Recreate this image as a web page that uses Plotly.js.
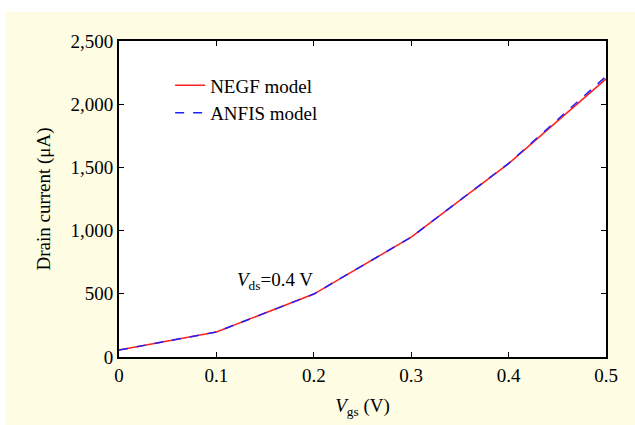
<!DOCTYPE html>
<html>
<head>
<meta charset="utf-8">
<script src="https://cdn.plot.ly/plotly-3.0.1.min.js"></script>
<style>
html,body{margin:0;padding:0;background:#ffffff;width:635px;height:425px;overflow:hidden;}
#chart{position:absolute;left:6px;top:12px;width:629px;height:413px;}
</style>
</head>
<body>
<div id="chart"></div>
<script>
var vgs = [0, 0.1, 0.2, 0.3, 0.4, 0.5];
var negf = [55, 198, 498, 948, 1530, 2200];
var anfis = [55, 198, 498, 948, 1532, 2220];
var xTicks = [0, 0.1, 0.2, 0.3, 0.4, 0.5];
var yTicks = [0, 500, 1000, 1500, 2000, 2500];

var font = {family: '"Liberation Serif", "Times New Roman", serif', size: 19, color: '#000'};

var traces = [
  {x: vgs, y: negf, name: 'NEGF model', mode: 'lines', type: 'scatter',
   line: {color: '#ff2020', width: 1.5}},
  {x: vgs, y: anfis, name: 'ANFIS model', mode: 'lines', type: 'scatter',
   line: {color: '#2020ff', width: 1.5, dash: 'dash'}}
];

var layout = {
  width: 629, height: 413,
  paper_bgcolor: '#fefde3',
  plot_bgcolor: '#ffffff',
  font: font,
  margin: {l: 113, r: 29, t: 29, b: 68},
  showlegend: true,
  legend: {x: 0.105, y: 0.92, xanchor: 'left', yanchor: 'top', bgcolor: 'rgba(0,0,0,0)',
           font: font, borderwidth: 0, tracegroupgap: 0},
  xaxis: {
    range: [0, 0.5], tickvals: xTicks, ticktext: xTicks.map(String),
    ticks: 'inside', ticklen: 5, tickwidth: 1, tickcolor: '#000',
    showline: true, linecolor: '#000', linewidth: 2, mirror: 'ticks',
    showgrid: false, zeroline: false, tickfont: font,
    title: {text: '<i>V</i><sub>gs</sub> (V)', font: font, standoff: 14}
  },
  yaxis: {
    range: [0, 2500], tickvals: yTicks, separatethousands: true, tickformat: ',d',
    ticks: 'inside', ticklen: 5, tickwidth: 1, tickcolor: '#000',
    showline: true, linecolor: '#000', linewidth: 2, mirror: 'ticks',
    showgrid: false, zeroline: false, tickfont: font,
    title: {text: 'Drain current (μA)', font: font, standoff: 15}
  },
  annotations: [{
    x: 0.16, y: 600, xref: 'x', yref: 'y', showarrow: false,
    text: '<i>V</i><sub>ds</sub>=0.4 V', font: font
  }]
};

Plotly.newPlot('chart', traces, layout, {displayModeBar: false, staticPlot: true});
</script>
</body>
</html>
